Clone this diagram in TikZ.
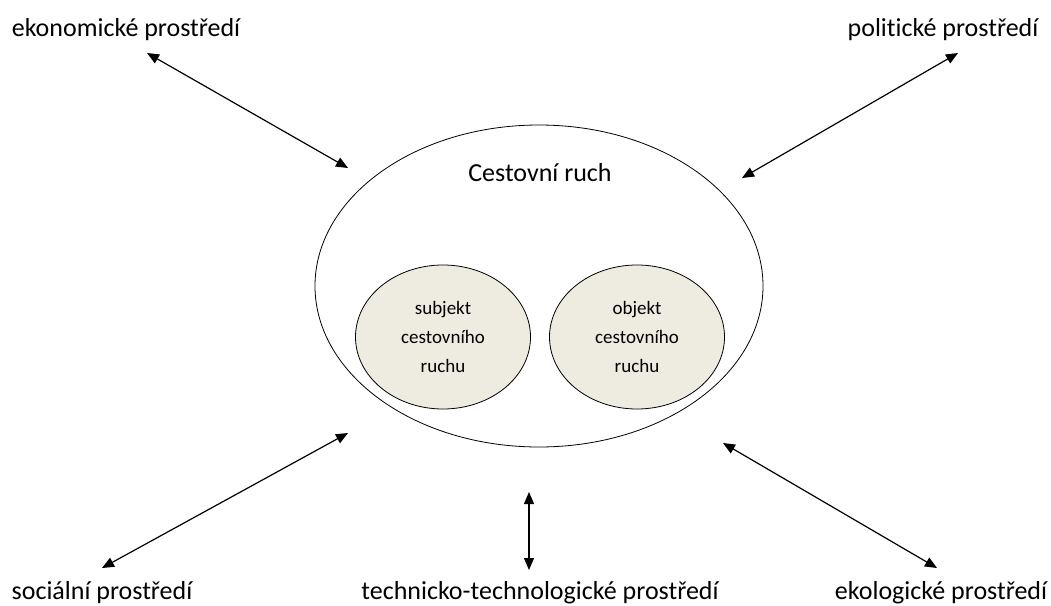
\documentclass[tikz,border=0pt]{standalone}
\usepackage{fontspec}
\setmainfont{Carlito}[Ligatures={NoCommon}]
\usetikzlibrary{shapes.geometric, arrows.meta}

\definecolor{partfill}{HTML}{EEECE1}

\tikzset{
  envtext/.style={font=\fontsize{26}{30}\selectfont, inner sep=0pt},
  part/.style={ellipse, draw, line width=0.8pt, fill=partfill, minimum width=175, minimum height=144,
    align=center, font=\fontsize{19}{29}\selectfont},
  conn/.style={{Triangle[length=12pt,width=10pt]}-{Triangle[length=12pt,width=10pt]}, line width=1.2pt}
}

\begin{document}
\begin{tikzpicture}[x=1pt, y=-1pt]
        \useasboundingbox (0,0) rectangle (1051,605);

        % Tourism
        \node[ellipse, draw, line width=0.8pt, minimum width=448, minimum height=322] (ruch) at (539,286) {};
        \node[envtext] (title) at (540,173) {Cestovní ruch};

        % Subject and object
        \node[part] (subjekt) at (443,337) {subjekt\\cestovního\\ruchu};
        \node[part] (objekt) at (637,337) {objekt\\cestovního\\ruchu};

        % Environments
        \node[envtext] (eko) at (126,30) {ekonomické prostředí};
        \node[envtext] (pol) at (943,30) {politické prostředí};
        \node[envtext] (soc) at (102,593) {sociální prostředí};
        \node[envtext] (tech) at (540,593) {technicko-technologické prostředí};
        \node[envtext] (ekol) at (941,593) {ekologické prostředí};

        % Arrow ends
        \coordinate (eko1) at (147,53);   \coordinate (eko2) at (348,168);
        \coordinate (pol1) at (958,53);   \coordinate (pol2) at (742,178);
        \coordinate (soc1) at (102,568);  \coordinate (soc2) at (348,433);
        \coordinate (tech1) at (529,570); \coordinate (tech2) at (529,492);
        \coordinate (ekol1) at (937,568); \coordinate (ekol2) at (723,443);

        \foreach \a in {eko,pol,soc,tech,ekol}
        \draw[conn] (\a1) -- (\a2);

\end{tikzpicture}
\end{document}
